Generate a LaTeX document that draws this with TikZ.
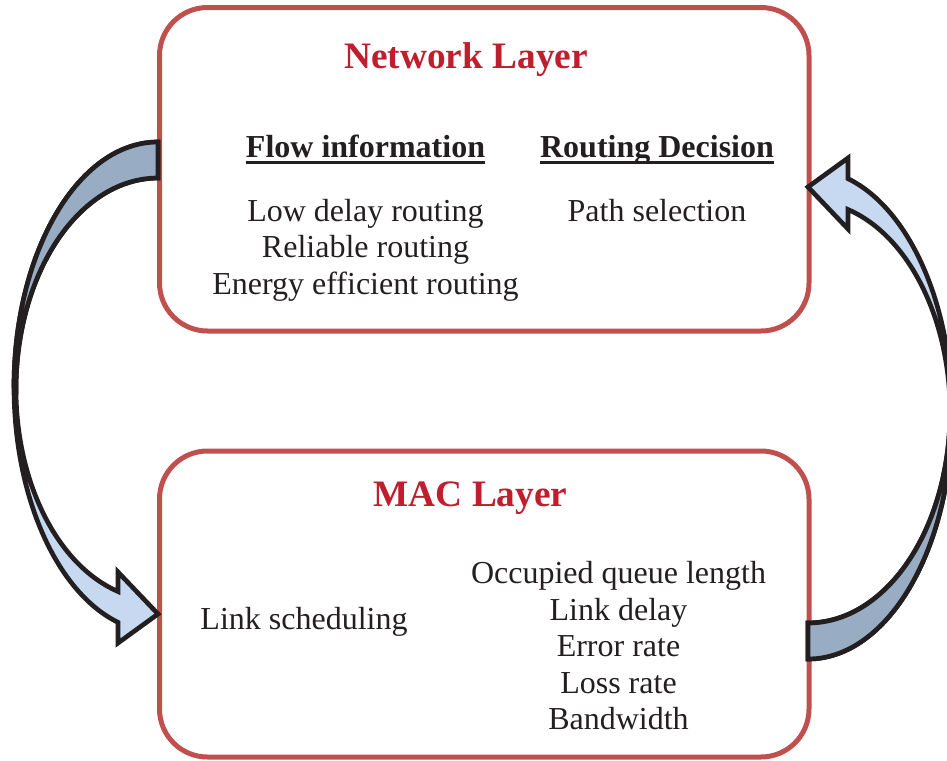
\documentclass[tikz,border=0pt]{standalone}
\usepackage{fontspec}
\setmainfont{Liberation Serif}
\definecolor{boxred}{RGB}{192,80,77}
\definecolor{titlered}{RGB}{190,30,45}
\definecolor{arrowdark}{RGB}{152,172,196}
\definecolor{arrowlight}{RGB}{198,217,240}
\definecolor{inkblack}{RGB}{35,31,32}

\begin{document}
\begin{tikzpicture}[x=0.75pt,y=-0.75pt,
    layerbox/.style={draw=boxred,line width=3.75pt,rounded corners=36pt},
    layertitle/.style={font=\fontsize{28}{32}\selectfont\bfseries,text=titlered,inner sep=0pt,anchor=base},
    heading/.style={font=\fontsize{24}{28}\selectfont\bfseries,text=inkblack,inner sep=0pt,anchor=base},
    bodytext/.style={font=\fontsize{24}{28}\selectfont,text=inkblack,inner sep=0pt,anchor=base},
    arrowline/.style={draw=inkblack,line width=3.5pt}]
    \useasboundingbox (0,0) rectangle (947,761);
    \clip (0,0) rectangle (947,761);

    % Layer boxes
    \draw[layerbox] (159.5,7.5) rectangle (809,331);
    \draw[layerbox] (159.5,451) rectangle (809,757);

    % Network layer
    \node[layertitle] (nettitle) at (466,68.5) {Network Layer};
    \node[heading] (flowhd) at (365.5,157.5) {Flow information};
    \node[heading] (routehd) at (657,157.5) {Routing Decision};
    \draw[line width=2.25pt,inkblack] ([yshift=-3.75pt]flowhd.base west) -- ([yshift=-3.75pt]flowhd.base east);
    \draw[line width=2.25pt,inkblack] ([yshift=-3.75pt]routehd.base west) -- ([yshift=-3.75pt]routehd.base east);
    \foreach \txt [count=\i] in {Low delay routing,Reliable routing,Energy efficient routing}
        \node[bodytext] (flow\i) at (365.5,{221+36.6*(\i-1)}) {\txt};
    \node[bodytext] (path) at (657,221) {Path selection};

    % MAC layer
    \node[layertitle] (mactitle) at (470.5,506.5) {MAC Layer};
    \node[bodytext] (sched) at (304,629.5) {Link scheduling};
    \foreach \txt [count=\i] in {Occupied queue length,Link delay,Error rate,Loss rate,Bandwidth}
        \node[bodytext] (mac\i) at (618.5,{583.5+36.6*(\i-1)}) {\txt};

    % Curved arrows (right one is the left one turned round)
    \foreach \turn in {0,180} {
    \begin{scope}[rotate around={\turn:(483,400.5)}]
        \filldraw[arrowline,fill=arrowlight] (158,142)
            arc[start angle=270,end angle=106.13,x radius=144,y radius=245]
            -- (118,643) -- (158,614) -- (118,572) -- (118,591.5)
            arc[start angle=106.36,end angle=270,x radius=142,y radius=211] -- cycle;
        \filldraw[arrowline,fill=arrowdark] (158,142)
            arc[start angle=270,end angle=180,x radius=144,y radius=245]
            -- (16,389)
            arc[start angle=180,end angle=270,x radius=142,y radius=211] -- cycle;
    \end{scope}
    }
\end{tikzpicture}
\end{document}
